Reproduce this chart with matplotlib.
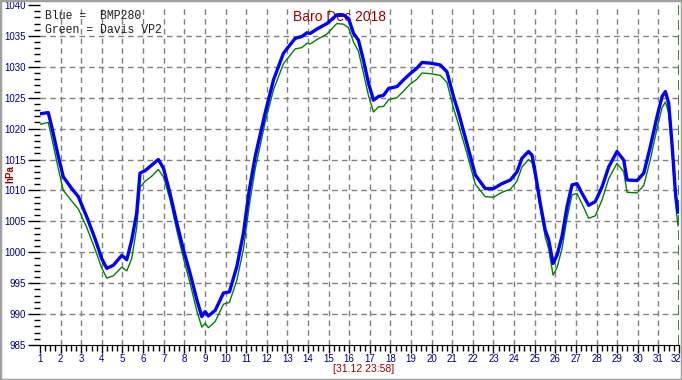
import matplotlib
matplotlib.use("Agg")
import matplotlib.pyplot as plt
from matplotlib.patches import Rectangle
from matplotlib.ticker import MultipleLocator
from matplotlib.transforms import ScaledTranslation

# days of December (1.0 = 1 Dec 00:00)
days = [1.00, 1.40, 1.57, 1.89, 2.13, 2.54, 2.86, 3.27, 3.67, 3.99,
        4.24, 4.56, 4.97, 5.21, 5.45, 5.69, 5.85, 6.10, 6.42, 6.74,
        6.99, 7.31, 7.64, 7.96, 8.28, 8.61, 8.85, 9.01, 9.17, 9.50,
        9.90, 10.19, 10.55, 10.87, 11.15, 11.44, 11.92, 12.33, 12.81, 13.38,
        13.70, 13.95, 14.11, 14.43, 14.92, 15.40, 15.72, 15.97, 16.21, 16.45,
        16.69, 16.94, 17.18, 17.42, 17.67, 17.91, 18.32, 18.64, 18.96, 19.29,
        19.53, 19.93, 20.42, 20.74, 21.06, 21.31, 21.71, 22.12, 22.60, 23.00,
        23.41, 23.82, 24.14, 24.38, 24.70, 24.87, 25.03, 25.27, 25.51, 25.68,
        25.89, 26.08, 26.32, 26.57, 26.81, 27.05, 27.30, 27.62, 27.94, 28.27,
        28.59, 28.99, 29.32, 29.48, 29.97, 30.29, 30.61, 30.93, 31.18, 31.34,
        31.50, 31.66, 31.83, 31.95]

# BMP280 (blue)
bmp280 = [1022.4, 1022.6, 1020.3, 1015.5, 1012.2, 1010.3, 1009.0, 1005.7, 1002.2, 999.0,
          997.4, 997.9, 999.5, 998.8, 1002.0, 1006.3, 1012.8, 1013.2, 1014.1, 1015.0,
          1013.6, 1009.5, 1004.7, 1000.4, 996.6, 992.3, 989.6, 990.4, 989.7, 990.6,
          993.4, 993.6, 997.7, 1003.1, 1010.0, 1015.5, 1022.5, 1027.9, 1032.2, 1034.6,
          1034.9, 1035.5, 1035.4, 1036.1, 1037.0, 1038.4, 1038.4, 1037.8, 1035.4, 1034.3,
          1031.1, 1027.3, 1024.6, 1025.2, 1025.4, 1026.5, 1026.8, 1027.9, 1028.9, 1029.8,
          1030.7, 1030.6, 1030.3, 1029.2, 1025.2, 1022.5, 1017.6, 1012.5, 1010.3, 1010.3,
          1011.1, 1011.7, 1013.0, 1015.2, 1016.3, 1015.7, 1012.8, 1007.9, 1003.6, 1002.0,
          998.2, 999.5, 1002.5, 1007.4, 1010.9, 1011.1, 1009.5, 1007.6, 1008.2, 1010.6,
          1013.8, 1016.3, 1014.9, 1011.7, 1011.6, 1012.8, 1017.1, 1021.9, 1025.2, 1026.0,
          1024.1, 1017.6, 1009.5, 1006.5]

# Davis VP2 (green)
davis = [1020.7, 1021.0, 1018.5, 1013.5, 1010.0, 1008.3, 1007.0, 1004.0, 1000.5, 997.5,
         995.8, 996.2, 997.6, 997.0, 999.0, 1004.0, 1010.5, 1011.5, 1012.3, 1013.4,
         1012.2, 1008.5, 1003.5, 999.0, 995.0, 990.5, 987.9, 988.5, 987.8, 988.8,
         991.6, 991.9, 995.5, 1000.5, 1007.5, 1013.5, 1021.0, 1026.3, 1030.5, 1032.9,
         1033.1, 1033.8, 1033.7, 1034.4, 1035.3, 1037.0, 1036.9, 1036.3, 1034.0, 1032.5,
         1029.0, 1025.3, 1022.7, 1023.5, 1023.6, 1024.7, 1025.0, 1026.1, 1027.2, 1028.0,
         1029.0, 1028.9, 1028.6, 1027.5, 1023.3, 1020.6, 1016.0, 1011.0, 1009.0, 1008.9,
         1009.7, 1010.2, 1011.5, 1013.8, 1015.0, 1014.5, 1012.0, 1007.0, 1002.5, 1000.5,
         996.3, 997.5, 1000.5, 1005.5, 1009.3, 1009.5, 1007.8, 1005.5, 1005.9, 1008.5,
         1011.9, 1014.4, 1013.0, 1009.7, 1009.6, 1010.8, 1015.0, 1020.0, 1023.4, 1024.3,
         1022.5, 1016.5, 1008.0, 1004.3]

x_ticks = list(range(1, 33))
y_ticks = list(range(985, 1041, 5))

navy = "#000080"
darkred = "#990000"

fig = plt.figure(figsize=(6.82, 3.80), dpi=100)
fig.patches.append(Rectangle((0, 0), 1, 1, transform=fig.transFigure,
                             fill=False, edgecolor="#a0a0a0", linewidth=2.5))

ax = fig.add_axes([40 / 682, 35 / 380, 639 / 682, 340 / 380])
ax.set_xlim(1, 32)
ax.set_ylim(985, 1040)

# dashed grid (no line on day 1 or at the top)
for d in x_ticks[1:-1]:
    ax.axvline(d, color="#808080", linestyle=(0, (4, 3)), linewidth=1, zorder=1)
for v in y_ticks[1:-1]:
    ax.axhline(v, color="#808080", linestyle=(0, (4, 3)), linewidth=1, zorder=1)
ax.axvline(32, color="#107010", linestyle=(0, (6, 3)), linewidth=1.2, zorder=1)

ax.plot(days, davis, color="#008000", linewidth=1.0, zorder=3)
ax.plot(days, bmp280, color="#0000ff", linewidth=2.4, zorder=4)

for s in ["top", "right", "left"]:
    ax.spines[s].set_visible(False)
ax.spines["bottom"].set_color("black")

ax.set_xticks(x_ticks)
ax.set_yticks(y_ticks)
ax.xaxis.set_minor_locator(MultipleLocator(0.25))
ax.yaxis.set_minor_locator(MultipleLocator(1))
ax.tick_params(axis="x", which="major", length=6, width=1, color="black",
               labelsize=7, labelcolor=navy, pad=0.5)
ax.tick_params(axis="x", which="minor", length=4, width=1, color="black")
ax.tick_params(axis="y", which="major", length=9, width=1, color="black",
               labelsize=7, labelcolor=navy, pad=1)
ax.tick_params(axis="y", which="minor", length=4, width=1, color="black")
xlabels = ax.get_xticklabels()
for lab in xlabels + ax.get_yticklabels():
    lab.set_family("Liberation Sans")
# pull the "32" label inside the frame
xlabels[-1].set_transform(xlabels[-1].get_transform()
                          + ScaledTranslation(-3 / 100, 0, fig.dpi_scale_trans))

ax.text(0.469, 0.985, "Baro Dec 2018", transform=ax.transAxes, ha="center", va="top",
        color=darkred, fontsize=10, family="Liberation Sans")
ax.text(0.008, 0.985, "Blue =  BMP280", transform=ax.transAxes, ha="left", va="top",
        color="#202020", fontsize=8.3, family="Liberation Mono")
ax.text(0.008, 0.945, "Green = Davis VP2", transform=ax.transAxes, ha="left", va="top",
        color="#202020", fontsize=8.3, family="Liberation Mono")

fig.text(364 / 682, 1 - 369 / 380, "[31.12 23:58]", ha="center", va="center",
         color=darkred, fontsize=7.5, family="Liberation Sans")
fig.text(10 / 682, 1 - 174 / 380, "hPa", ha="center", va="center", rotation=90,
         color=darkred, fontsize=7, fontweight="bold", family="Liberation Sans")

fig.savefig("out.png", dpi=100)
